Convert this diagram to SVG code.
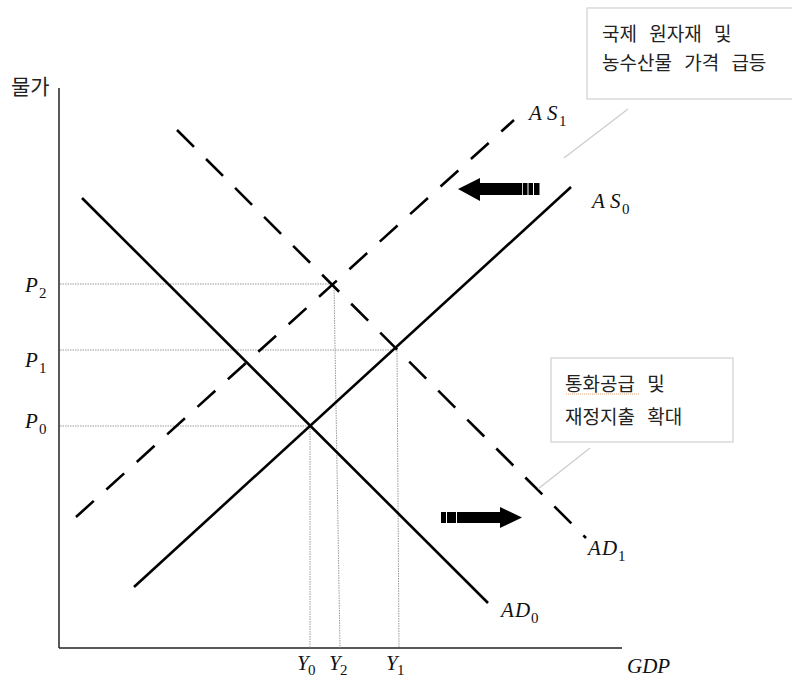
<svg xmlns="http://www.w3.org/2000/svg" width="792" height="680" viewBox="0 0 792 680">
<style>
.axis{stroke:#222;stroke-width:1.5;fill:none}
.curve{stroke:#000;stroke-width:2.6;fill:none;stroke-linecap:butt}
.dash{stroke-dasharray:24 17}
.dot{stroke:#999;stroke-width:1;stroke-dasharray:1.5 1;fill:none}
.lead{stroke:#ccc;stroke-width:1.2;fill:none}
.box{fill:#fff;stroke:#d0d0d0;stroke-width:1.2}
.m{font-family:"Liberation Serif","DejaVu Serif",serif;font-style:italic;font-size:21px;fill:#111}
.sub{font-family:"Liberation Serif","DejaVu Serif",serif;font-size:15px;fill:#111}
.ko{font-family:"Noto Sans CJK KR","Noto Sans",sans-serif;font-size:19px;fill:#222;word-spacing:8px}
</style>
<rect width="792" height="680" fill="#fff"/>

<g id="axes">
<line class="axis" x1="59" y1="88" x2="59" y2="648"/>
<line class="axis" x1="59" y1="648" x2="622" y2="648"/>
<text class="ko" x="11" y="94" style="font-size:21px">물가</text>
<text class="m" x="627" y="673">GDP</text>
</g>

<g id="guides">
<polyline class="dot" points="60,284 334,284 340,648"/>
<polyline class="dot" points="60,350 397,350 399,648"/>
<polyline class="dot" points="60,426 310,426 310,648"/>
<text class="m" x="25" y="292">P</text><text class="sub" x="39" y="298">2</text>
<text class="m" x="25" y="367">P</text><text class="sub" x="39" y="373">1</text>
<text class="m" x="25" y="428">P</text><text class="sub" x="39" y="434">0</text>
<text class="m" x="297" y="670">Y</text><text class="sub" x="308" y="675">0</text>
<text class="m" x="329" y="670">Y</text><text class="sub" x="340" y="675">2</text>
<text class="m" x="386" y="670">Y</text><text class="sub" x="397" y="675">1</text>
</g>

<g id="AS0">
<line class="curve" x1="134" y1="587" x2="571" y2="187"/>
<text class="m" x="592" y="208">A</text><text class="m" x="610" y="208">S</text><text class="sub" x="622" y="214">0</text>
</g>

<g id="AD0">
<line class="curve" x1="82" y1="198" x2="488" y2="603"/>
<text class="m" x="501" y="617">A</text><text class="m" x="515" y="617">D</text><text class="sub" x="531" y="623">0</text>
</g>

<g id="AS1">
<line class="curve dash" x1="76" y1="517" x2="514" y2="120"/>
<text class="m" x="529" y="120">A</text><text class="m" x="547" y="120">S</text><text class="sub" x="559" y="126">1</text>
</g>

<g id="AD1">
<line class="curve dash" x1="177" y1="130" x2="586" y2="538"/>
<text class="m" x="588" y="555">A</text><text class="m" x="602" y="555">D</text><text class="sub" x="618" y="561">1</text>
</g>

<g id="shift-left">
<polygon points="458,189 480,178 480,183 522,183 522,195 480,195 480,201" fill="#000"/>
<rect x="522.8" y="183" width="4.7" height="12" fill="#000"/>
<rect x="528.5" y="183" width="4.5" height="12" fill="#000"/>
<rect x="534" y="183" width="5.5" height="12" fill="#000"/>
</g>

<g id="shift-right">
<rect x="441" y="512" width="5" height="11" fill="#000"/>
<rect x="447" y="512" width="9" height="11" fill="#000"/>
<polygon points="457,512 500,512 500,507 522,517.5 500,528 500,523 457,523" fill="#000"/>
</g>

<g id="connectors">
<line class="lead" x1="628" y1="109" x2="564" y2="158"/>
<line class="lead" x1="590" y1="448" x2="538" y2="489"/>
</g>

<g id="note-supply">
<rect class="box" x="587" y="8" width="215" height="91"/>
<text class="ko" x="602" y="41">국제 원자재 및</text>
<text class="ko" x="602" y="70">농수산물 가격 급등</text>
</g>

<g id="note-demand">
<rect class="box" x="551" y="358" width="182" height="84"/>
<text class="ko" x="565" y="391">통화공급 및</text>
<line x1="566" y1="394" x2="640" y2="394" stroke="#e0a070" stroke-width="1" stroke-dasharray="1 1"/>
<text class="ko" x="565" y="424">재정지출 확대</text>
</g>
</svg>
